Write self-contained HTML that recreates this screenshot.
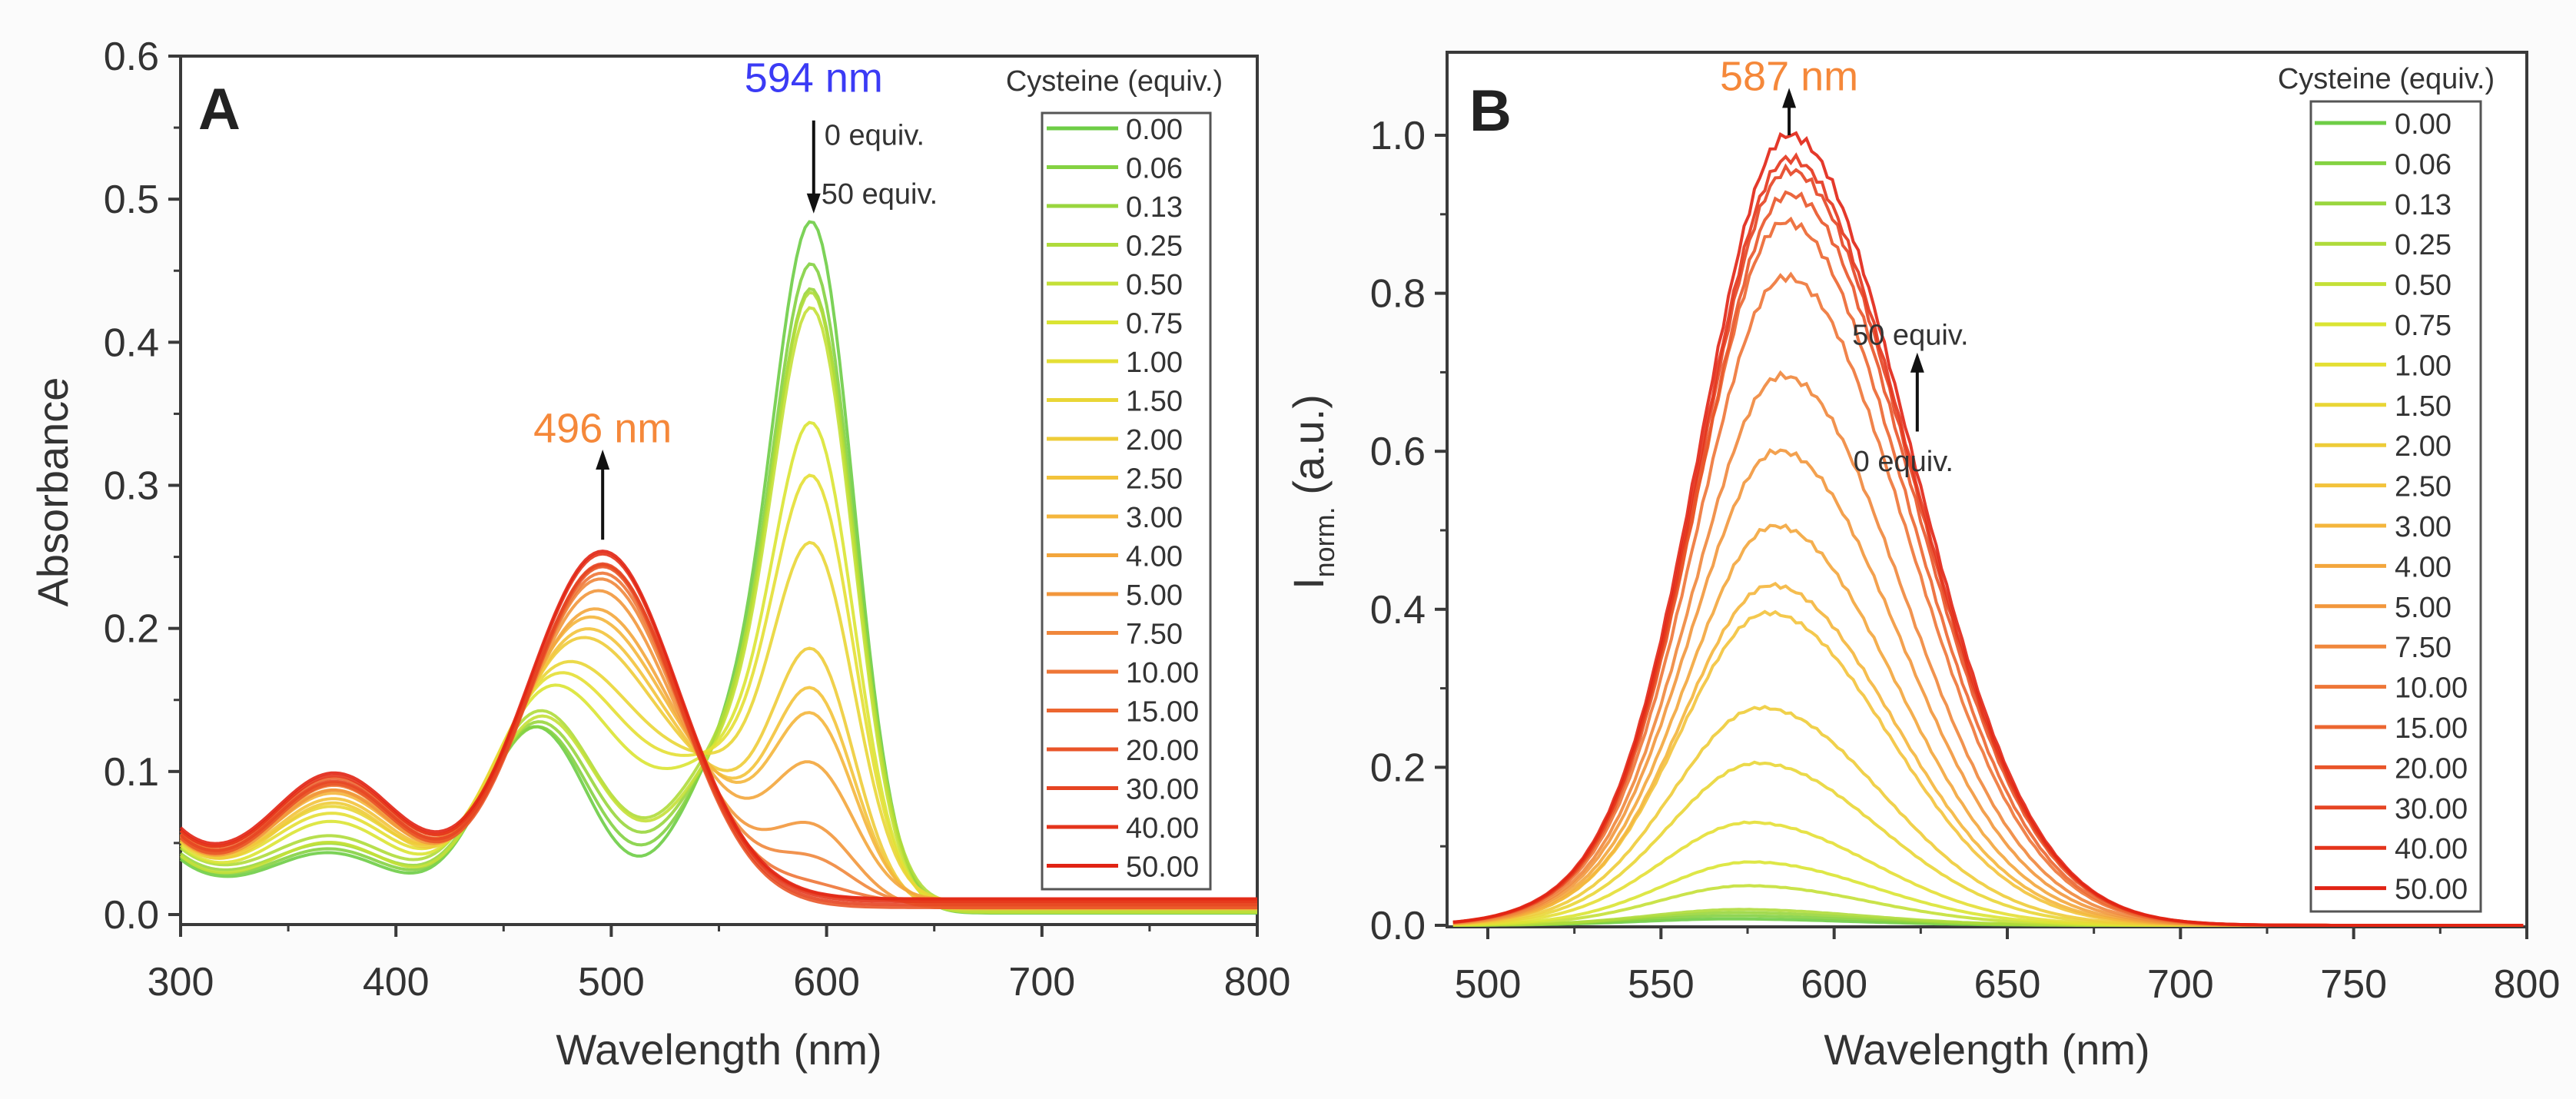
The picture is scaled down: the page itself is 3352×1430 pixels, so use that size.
<!DOCTYPE html>
<html><head><meta charset="utf-8">
<style>
html,body{margin:0;padding:0;background:#fbfbfb;}
svg{display:block;font-family:"Liberation Sans",Arial,sans-serif;}
</style></head>
<body>
<svg id="fig" width="3352" height="1430" viewBox="0 0 3352 1430" xmlns="http://www.w3.org/2000/svg">
<rect x="0" y="0" width="3352" height="1430" fill="#fbfbfb"/>
<g id="panelA"></g>
<g id="panelB"></g>
</svg>
<script>
// ---- data ----
const equivLabels = ["0.00","0.06","0.13","0.25","0.50","0.75","1.00","1.50","2.00","2.50","3.00","4.00","5.00","7.50","10.00","15.00","20.00","30.00","40.00","50.00"];
const absPeak594 = [0.487,0.455,0.435,0.43,0.425,0.34,0.30,0.25,0.18,0.15,0.13,0.093,0.055,0.03,0.01,0,0,0,0,0];
const absPeak496 = [0,0.01,0.02,0.03,0.035,0.09,0.11,0.13,0.17,0.18,0.19,0.20,0.225,0.235,0.24,0.245,0.25,0.25,0.255,0.255];
const emPeak = [0.008,0.012,0.016,0.02,0.05,0.08,0.13,0.205,0.275,0.395,0.43,0.505,0.6,0.695,0.82,0.89,0.925,0.955,0.97,1.0];
const emPeakPos = [570,571,572,573,575,576,576,578,579,581,582,583,584,585,586,586,587,587,587,587];
const xTicksA = [300,400,500,600,700,800];
const yTicksA = ["0.0","0.1","0.2","0.3","0.4","0.5","0.6"];
const xTicksB = [500,550,600,650,700,750,800];
const yTicksB = ["0.0","0.2","0.4","0.6","0.8","1.0"];

const NS="http://www.w3.org/2000/svg";
function mk(parent,tag,attrs,text){const e=document.createElementNS(NS,tag);for(const k in attrs)e.setAttribute(k,attrs[k]);if(text!==undefined)e.textContent=text;parent.appendChild(e);return e;}
const stops=[[0,[110,205,70]],[0.28,[225,230,50]],[0.5,[245,190,60]],[0.7,[240,130,60]],[1,[225,35,20]]];
function col(i,n){const t=i/(n-1);for(let k=1;k<stops.length;k++){if(t<=stops[k][0]){const a=stops[k-1],b=stops[k];const f=(t-a[0])/(b[0]-a[0]);const c=a[1].map((v,j)=>Math.round(v+(b[1][j]-v)*f));return `rgb(${c[0]},${c[1]},${c[2]})`;}}return "rgb(225,35,20)";}
const g=(x,m,s)=>Math.exp(-((x-m)*(x-m))/(2*s*s));
function specA(l){return 0.465*g(l,594,19)+0.10*g(l,553,22)+0.13*g(l,465,25)+0.04*g(l,370,30)+0.035*Math.exp(-(l-300)/25)+0.004;}
function specB(l){return 0.243*g(l,496,35)+0.085*g(l,372,30)+0.045*Math.exp(-(l-300)/25)+0.008;}

function frame(G,name,L,R,T,B,xs,ys,xticks,xminors,yticks,yminors){
  const fr=mk(G,'rect',{x:L,y:T,width:R-L,height:B-T,fill:'#ffffff',stroke:'#3a3a3a','stroke-width':4});
  
  xticks.forEach(v=>{const x=xs(v);
    const t=mk(G,'line',{x1:x,x2:x,y1:B,y2:B+16,stroke:'#3a3a3a','stroke-width':4});
    
    const tx=mk(G,'text',{x:x,y:B+92,'font-size':52,'text-anchor':'middle',fill:'#333'},String(v));
    });
  xminors.forEach(v=>{const x=xs(v);const t=mk(G,'line',{x1:x,x2:x,y1:B,y2:B+9,stroke:'#3a3a3a','stroke-width':3});
    });
  yticks.forEach(s=>{const y=ys(parseFloat(s));
    const t=mk(G,'line',{x1:L-16,x2:L,y1:y,y2:y,stroke:'#3a3a3a','stroke-width':4});
    
    const tx=mk(G,'text',{x:L-28,y:y+18,'font-size':52,'text-anchor':'end',fill:'#333'},s);
    });
  yminors.forEach(v=>{const y=ys(v);const t=mk(G,'line',{x1:L-9,x2:L,y1:y,y2:y,stroke:'#3a3a3a','stroke-width':3});
    });
  const xl=mk(G,'text',{x:(L+R)/2,y:1385,'font-size':56,'text-anchor':'middle',fill:'#333'},'Wavelength (nm)');
  
}
function legend(G,name,boxL,boxR,boxT,boxB,y0,dy,lineL,lineR,textX,titleX,titleY){
  const t=mk(G,'text',{x:titleX,y:titleY,'font-size':38,fill:'#333','text-anchor':'middle'},'Cysteine (equiv.)');
  
  const b=mk(G,'rect',{x:boxL,y:boxT,width:boxR-boxL,height:boxB-boxT,fill:'#fff',stroke:'#555','stroke-width':3});
  
  equivLabels.forEach((lab,i)=>{const y=y0+i*dy;
    const eg=mk(G,'g',{});
    mk(eg,'line',{x1:lineL,x2:lineR,y1:y,y2:y,stroke:col(i,equivLabels.length),'stroke-width':5});
    mk(eg,'text',{x:textX,y:y+14,'font-size':38,fill:'#333'},lab);});
}
function arrow(G,name,x,y1,y2){
  const a=mk(G,'g',{});
  const dir=y2>y1?1:-1;
  mk(a,'line',{x1:x,x2:x,y1:y1,y2:y2-dir*22,stroke:'#111','stroke-width':4});
  mk(a,'polygon',{points:`${x-9},${y2-dir*26} ${x+9},${y2-dir*26} ${x},${y2}`,fill:'#111'});
}

// ---- Panel A ----
(function(){
  const G=document.getElementById('panelA');
  const L=235,R=1636,T=73,B=1203;
  const xs=v=>L+(v-300)/(500)*(R-L);
  const ys=v=>1190-(v/0.6)*(1190-73);
  frame(G,'panel-a',L,R,T,B,xs,ys,xTicksA,[350,450,550,650,750],yTicksA,[0.05,0.15,0.25,0.35,0.45,0.55]);
  const curves=mk(G,'g',{});
  for(let i=0;i<equivLabels.length;i++){
    const pa=absPeak594[i]/0.487, pb=absPeak496[i]/0.255;
    let d='';
    for(let l=300;l<=800;l+=2){const v=pa*specA(l)+pb*specB(l)+0.002*((i%4)-1.5);d+=(l===300?'M':'L')+xs(l).toFixed(1)+','+ys(v).toFixed(1);}
    const p=mk(curves,'path',{d:d,fill:'none',stroke:col(i,equivLabels.length),'stroke-width':4,'stroke-opacity':0.9});
    
  }
  legend(G,'panel-a',1356,1575,147,1157,167,50.5,1362,1455,1465,1450,118);
  const la=mk(G,'text',{x:258,y:168,'font-size':76,'font-weight':'bold',fill:'#222'},'A');
  
  const yl=mk(G,'text',{x:0,y:0,'font-size':56,'text-anchor':'middle',fill:'#333',transform:'translate(88,640) rotate(-90)'},'Absorbance');
  
  const t1=mk(G,'text',{x:xs(594),y:ys(0.575),'font-size':54,'text-anchor':'middle',fill:'#3b3bf5'},'594 nm');
  
  arrow(G,'arrow-594-down',xs(594),ys(0.555),ys(0.49));
  const e0=mk(G,'text',{x:xs(594)+14,y:ys(0.538),'font-size':38,fill:'#333'},'0 equiv.');
  
  const e50=mk(G,'text',{x:xs(594)+10,y:ys(0.497),'font-size':38,fill:'#333'},'50 equiv.');
  
  const t2=mk(G,'text',{x:xs(496),y:ys(0.33),'font-size':54,'text-anchor':'middle',fill:'#f5883a'},'496 nm');
  
  arrow(G,'arrow-496-up',xs(496),ys(0.262),ys(0.325));
})();

// ---- Panel B ----
(function(){
  const G=document.getElementById('panelB');
  const L=1883,R=3288,T=68,B=1206;
  const xs=v=>1936+(v-500)/300*(3288-1936);
  const ys=v=>1204-v*(1204-176);
  frame(G,'panel-b',L,R,T,B,xs,ys,xTicksB,[525,575,625,675,725,775],yTicksB,[0.1,0.3,0.5,0.7,0.9]);
  const curves=mk(G,'g',{});
  for(let i=0;i<equivLabels.length;i++){
    const pk=emPeak[i],pos=emPeakPos[i];
    let d='';
    for(let l=490;l<=800;l+=1.5){
      const s=l<pos?25.5:35;
      let v=pk*(g(l,pos,s)+0.02*Math.exp(-Math.pow((l-530)/30,2)));
      v+=v*0.006*Math.sin(l*1.7+i);
      d+=(l===490?'M':'L')+xs(l).toFixed(1)+','+ys(Math.max(0,v)).toFixed(1);}
    const p=mk(curves,'path',{d:d,fill:'none',stroke:col(i,equivLabels.length),'stroke-width':4,'stroke-opacity':0.9});
    
  }
  legend(G,'panel-b',3007,3228,132,1186,160,52.4,3012,3105,3116,3105,115);
  const lb=mk(G,'text',{x:1912,y:170,'font-size':76,'font-weight':'bold',fill:'#222'},'B');
  
  const yl=mk(G,'text',{x:0,y:0,'font-size':56,'text-anchor':'middle',fill:'#333',transform:'translate(1722,640) rotate(-90)'});
  
  mk(yl,'tspan',{},'I');mk(yl,'tspan',{'font-size':36,dy:14},'norm.');mk(yl,'tspan',{dy:-14},' (a.u.)');
  const t1=mk(G,'text',{x:xs(587),y:ys(1.057),'font-size':54,'text-anchor':'middle',fill:'#f5883a'},'587 nm');
  
  arrow(G,'arrow-587-up',xs(587),ys(1.0),ys(1.06));
  arrow(G,'arrow-equiv-up',xs(624),ys(0.625),ys(0.725));
  const e50=mk(G,'text',{x:xs(622),y:ys(0.735),'font-size':38,'text-anchor':'middle',fill:'#333'},'50 equiv.');
  
  const e0=mk(G,'text',{x:xs(620),y:ys(0.575),'font-size':38,'text-anchor':'middle',fill:'#333'},'0 equiv.');
  
})();
</script>
</body></html>
